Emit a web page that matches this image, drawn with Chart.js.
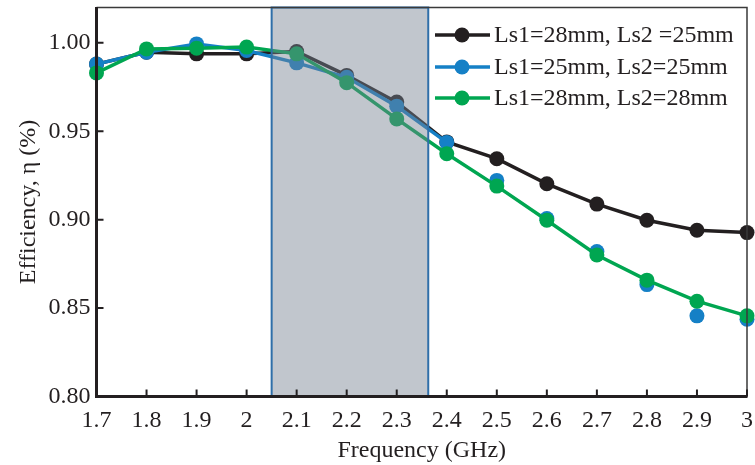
<!DOCTYPE html>
<html>
<head>
<meta charset="utf-8">
<script src="https://cdn.jsdelivr.net/npm/chart.js@4/dist/chart.umd.min.js"></script>
<style>
  html, body { margin: 0; padding: 0; background: #ffffff; }
  #wrap { width: 755px; height: 465px; position: relative; }
</style>
</head>
<body>
<div id="wrap"><canvas id="c" width="755" height="465"></canvas></div>
<script>
const frequency = [1.7, 1.8, 1.9, 2.0, 2.1, 2.2, 2.3, 2.4, 2.5, 2.6, 2.7, 2.8, 2.9, 3.0];
const seriesLabels = ["Ls1=28mm, Ls2 =25mm", "Ls1=25mm, Ls2=25mm", "Ls1=28mm, Ls2=28mm"];
const eff28_25 = [0.988, 0.9947, 0.9938, 0.9938, 0.9951, 0.9816, 0.9665, 0.944, 0.9345, 0.9203, 0.9088, 0.8997, 0.894, 0.8927];
const eff25_25 = [0.988, 0.9947, 0.9994, 0.9957, 0.9887, 0.9805, 0.9642, 0.9437, 0.9222, 0.9006, 0.882, 0.8633, 0.8456, 0.8437];
const eff28_28 = [0.983, 0.9966, 0.997, 0.9976, 0.9938, 0.9775, 0.957, 0.9373, 0.919, 0.8997, 0.880, 0.8658, 0.8539, 0.8456];
const xTickValues = [1.7, 1.8, 1.9, 2.0, 2.1, 2.2, 2.3, 2.4, 2.5, 2.6, 2.7, 2.8, 2.9, 3.0];
const xTickLabels = ["1.7", "1.8", "1.9", "2", "2.1", "2.2", "2.3", "2.4", "2.5", "2.6", "2.7", "2.8", "2.9", "3"];
const yTickValues = [0.80, 0.85, 0.90, 0.95, 1.00];
const yTickLabels = ["0.80", "0.85", "0.90", "0.95", "1.00"];
const shadedBand = [2.05, 2.363];

const FONT = "'Liberation Serif', 'Times New Roman', serif";
const COLORS = ["#231f20", "#1580c6", "#00a651"];

function pts(ys) { return frequency.map((x, i) => ({ x: x, y: ys[i] })); }

const bandAndFrame = {
  id: 'bandAndFrame',
  afterDatasetsDraw(chart) {
    const ctx = chart.ctx, a = chart.chartArea, xs = chart.scales.x;
    const x0 = xs.getPixelForValue(shadedBand[0]);
    const x1 = xs.getPixelForValue(shadedBand[1]);
    ctx.save();
    ctx.fillStyle = 'rgba(118,128,145,0.45)';
    ctx.fillRect(x0, a.top, x1 - x0, a.bottom - a.top);
    ctx.strokeStyle = '#2f6fa9';
    ctx.lineWidth = 2;
    ctx.strokeRect(x0, a.top, x1 - x0, a.bottom - a.top);
    ctx.restore();
  },
  afterDraw(chart) {
    const ctx = chart.ctx, a = chart.chartArea, xs = chart.scales.x, ys = chart.scales.y;
    ctx.save();
    ctx.strokeStyle = '#3a3a3a';
    ctx.lineWidth = 1.5;
    ctx.beginPath();
    ctx.moveTo(a.left, a.top); ctx.lineTo(a.right, a.top); ctx.lineTo(a.right, a.bottom);
    ctx.stroke();
    ctx.strokeStyle = '#231f20';
    ctx.lineWidth = 2;
    ctx.beginPath();
    xTickValues.forEach(v => {
      const px = xs.getPixelForValue(v);
      ctx.moveTo(px, a.bottom); ctx.lineTo(px, a.bottom - 7);
    });
    yTickValues.forEach(v => {
      const py = ys.getPixelForValue(v);
      ctx.moveTo(a.left, py); ctx.lineTo(a.left + 7, py);
    });
    ctx.stroke();
    ctx.lineWidth = 3;
    ctx.beginPath();
    ctx.moveTo(a.left, a.top - 0.5); ctx.lineTo(a.left, a.bottom); ctx.lineTo(a.right + 0.5, a.bottom);
    ctx.stroke();
    const rows = [35, 67, 98];
    chart.data.datasets.forEach((ds, i) => {
      const y = rows[i];
      ctx.strokeStyle = ds.borderColor;
      ctx.lineWidth = 3.5;
      ctx.beginPath(); ctx.moveTo(435, y); ctx.lineTo(490, y); ctx.stroke();
      ctx.fillStyle = ds.pointBackgroundColor;
      ctx.beginPath(); ctx.arc(462, y, 7.5, 0, Math.PI * 2); ctx.fill();
      ctx.fillStyle = '#231f20';
      ctx.font = '24px ' + FONT;
      ctx.textBaseline = 'middle';
      ctx.textAlign = 'left';
      ctx.fillText(ds.label, 494, y + 1);
    });
    ctx.restore();
  }
};

const datasets = [
  { label: seriesLabels[0], data: pts(eff28_25), color: COLORS[0], order: 3 },
  { label: seriesLabels[1], data: pts(eff25_25), color: COLORS[1], order: 2,
    segment: { borderColor: c => (c.p0.parsed.x >= 2.4 - 1e-9 ? 'rgba(0,0,0,0)' : undefined) } },
  { label: seriesLabels[2], data: pts(eff28_28), color: COLORS[2], order: 1 }
].map(d => Object.assign({
  borderColor: d.color,
  backgroundColor: d.color,
  pointBackgroundColor: d.color,
  pointBorderColor: d.color,
  pointRadius: 7.5,
  pointBorderWidth: 0,
  borderWidth: 3.5,
  tension: 0,
  clip: false
}, d));

new Chart(document.getElementById('c'), {
  type: 'line',
  data: { datasets: datasets },
  options: {
    responsive: false,
    animation: false,
    devicePixelRatio: 1,
    layout: { padding: { top: 5, right: 8, left: 0, bottom: 0 } },
    plugins: { legend: { display: false }, tooltip: { enabled: false } },
    scales: {
      x: {
        type: 'linear', min: 1.7, max: 3.0,
        afterBuildTicks: s => { s.ticks = xTickValues.map(v => ({ value: v })); },
        afterFit: s => { s.height = 68.5; s.paddingLeft = 0; s.paddingRight = 0; },
        grid: { display: false, drawTicks: false },
        border: { display: false },
        ticks: {
          color: '#231f20', font: { family: FONT, size: 24 }, padding: 10,
          maxRotation: 0, autoSkip: false,
          callback: (v, i) => xTickLabels[i]
        },
        title: { display: true, text: 'Frequency (GHz)', color: '#231f20',
                 font: { family: FONT, size: 24 }, padding: { top: 0, bottom: 0 } }
      },
      y: {
        type: 'linear', min: 0.80, max: 1.02,
        afterBuildTicks: s => { s.ticks = yTickValues.map(v => ({ value: v })); },
        afterFit: s => { s.width = 96.5; s.paddingTop = 0; s.paddingBottom = 0; },
        grid: { display: false, drawTicks: false },
        border: { display: false },
        ticks: {
          color: '#231f20', font: { family: FONT, size: 24 }, padding: 6,
          autoSkip: false,
          callback: (v, i) => yTickLabels[i]
        },
        title: { display: true, text: 'Efficiency, η (%)', color: '#231f20',
                 font: { family: FONT, size: 24 }, padding: { top: 14, bottom: 4 } }
      }
    }
  },
  plugins: [bandAndFrame]
});
</script>
</body>
</html>
